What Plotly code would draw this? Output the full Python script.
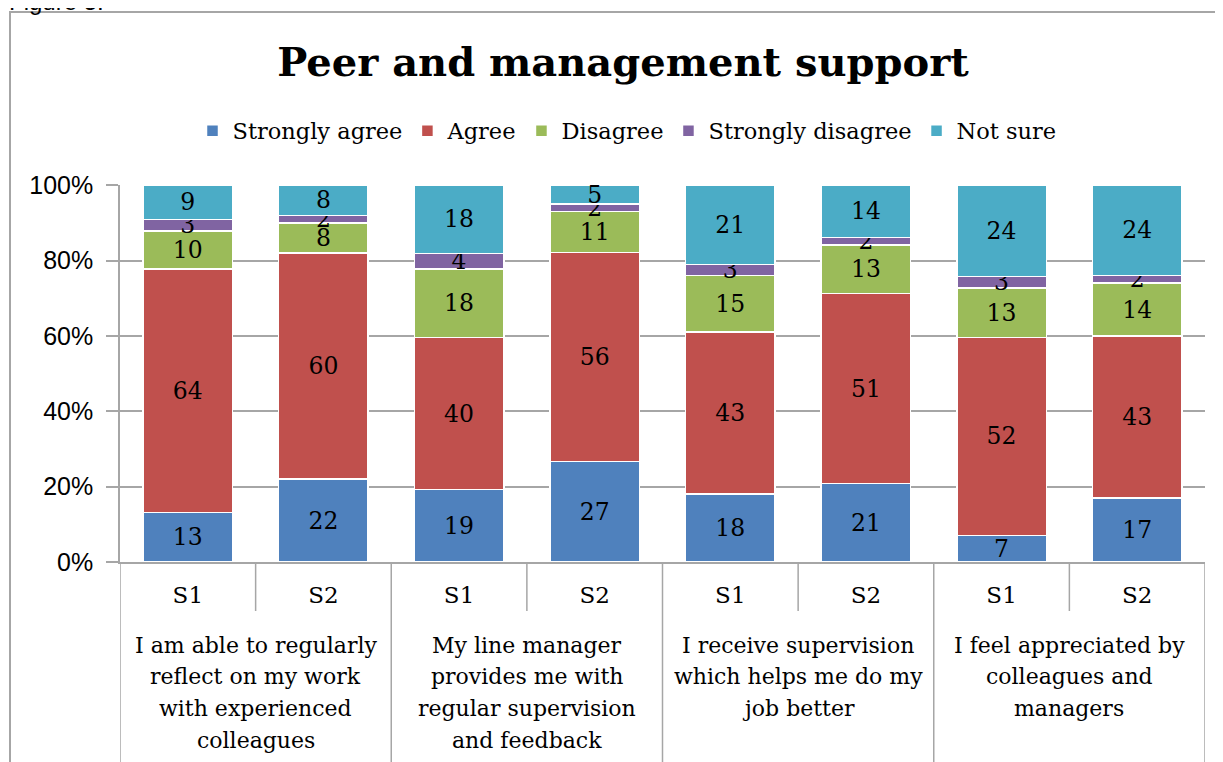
import plotly.graph_objects as go

group_lines = [
    ["I am able to regularly", "reflect on my work", "with experienced", "colleagues"],
    ["My line manager", "provides me with", "regular supervision", "and feedback"],
    ["I receive supervision", "which helps me do my", "job better"],
    ["I feel appreciated by", "colleagues and", "managers"],
]
surveys = ["S1", "S2"]

series_names = ["Strongly agree", "Agree", "Disagree", "Strongly disagree", "Not sure"]
strongly_agree = [13, 22, 19, 27, 18, 21, 7, 17]
agree = [64, 60, 40, 56, 43, 51, 52, 43]
disagree = [10, 8, 18, 11, 15, 13, 13, 14]
strongly_disagree = [3, 2, 4, 2, 3, 2, 3, 2]
not_sure = [9, 8, 18, 5, 21, 14, 24, 24]
colors = ["#4F81BD", "#C0504D", "#9BBB59", "#8064A2", "#4BACC6"]

y_ticks = [0, 20, 40, 60, 80, 100]

SERIF = "DejaVu Serif"
SANS = "Liberation Sans"
GRID = "#A6A6A6"

# page body adds an 8px offset; plot area target: x 120..1205, y 185..562
OFF = 8
PL, PR, PT, PB = 120, 1205, 185, 562
W, H = 1223, 762
PW, PH = PR - PL, PB - PT


def px_x(x):
    return (x - PL) / PW


def px_y(y):
    return (PB - y) / PH


n = len(group_lines) * len(surveys)
xpos = list(range(n))
tick_text = [s for g in group_lines for s in surveys]

fig = go.Figure()
for name, vals, col in zip(series_names,
                           [strongly_agree, agree, disagree, strongly_disagree, not_sure],
                           colors):
    fig.add_trace(go.Bar(
        x=xpos, y=vals, name=name,
        marker=dict(color=col, line=dict(color="white", width=1.5)),
        width=0.66,
        text=[str(v) for v in vals],
        textposition="inside", insidetextanchor="middle", textangle=0,
        constraintext="none",
        textfont=dict(family=SERIF, size=23.5, color="black"),
        cliponaxis=False,
    ))

fig.update_layout(
    template="none",
    barmode="stack", barnorm="percent",
    width=W, height=H,
    margin=dict(l=PL - OFF, r=W + OFF - PR, t=PT - OFF, b=H + OFF - PB, autoexpand=False),
    paper_bgcolor="white", plot_bgcolor="white",
    uniformtext=dict(minsize=23.5, mode="show"),
    title=dict(text="<b>Peer and management support</b>",
               font=dict(family=SERIF, size=40, color="black"),
               x=(623 - OFF) / W, xanchor="center", y=1 - (62 - OFF) / H, yanchor="middle",
               yref="container"),
    legend=dict(orientation="h", x=px_x(627), xanchor="center", y=px_y(131), yanchor="middle",
                font=dict(family=SERIF, size=22.5, color="black"),
                traceorder="normal", itemclick=False, bgcolor="rgba(0,0,0,0)"),
    showlegend=True,
)

fig.update_yaxes(range=[0, 100.05], tickvals=y_ticks, ticktext=[f"{v}%" for v in y_ticks],
                 tickfont=dict(family=SANS, size=25, color="black"),
                 showgrid=True, gridcolor=GRID, gridwidth=1.5,
                 showline=True, linecolor=GRID, linewidth=1.5,
                 ticks="outside", ticklen=12, tickcolor=GRID, tickwidth=1.5,
                 ticklabelstandoff=8,
                 zeroline=False, fixedrange=True, automargin=False)
fig.update_xaxes(range=[-0.5, n - 0.5], tickvals=xpos, ticktext=tick_text,
                 tickfont=dict(family=SERIF, size=23, color="black"),
                 ticks="outside", ticklen=12, tickcolor="rgba(0,0,0,0)",
                 showline=True, linecolor=GRID, linewidth=1.5,
                 showgrid=False, zeroline=False, fixedrange=True, automargin=False)

shapes = []
# group boundaries (long)
for b in [-0.5, 1.5, 3.5, 5.5, 7.5]:
    shapes.append(dict(type="line", xref="x", yref="paper", x0=b, x1=b, y0=0, y1=px_y(770),
                       line=dict(color=GRID, width=1.5)))
# survey dividers (short)
for b in [0.5, 2.5, 4.5, 6.5]:
    shapes.append(dict(type="line", xref="x", yref="paper", x0=b, x1=b, y0=0, y1=px_y(611),
                       line=dict(color=GRID, width=1.5)))
# outer chart border
shapes.append(dict(type="rect", xref="paper", yref="paper",
                   x0=px_x(10), x1=px_x(1240), y0=px_y(780), y1=px_y(12),
                   line=dict(color=GRID, width=2), fillcolor="rgba(0,0,0,0)", layer="below"))
fig.update_layout(shapes=shapes)

annotations = []
LINE_TOP, LINE_STEP = 645, 31.8
for i, lines in enumerate(group_lines):
    for j, line in enumerate(lines):
        annotations.append(dict(text=line, xref="x", yref="paper", x=2 * i + 0.5,
                                y=px_y(LINE_TOP + j * LINE_STEP),
                                xanchor="center", yanchor="middle", showarrow=False,
                                font=dict(family=SERIF, size=22, color="black")))
annotations.append(dict(text="Figure 5.", xref="paper", yref="paper",
                        x=px_x(7), y=px_y(17), xanchor="left", yanchor="bottom",
                        showarrow=False, font=dict(family=SANS, size=24, color="black")))
fig.update_layout(annotations=annotations)

fig.write_html("out.html")
